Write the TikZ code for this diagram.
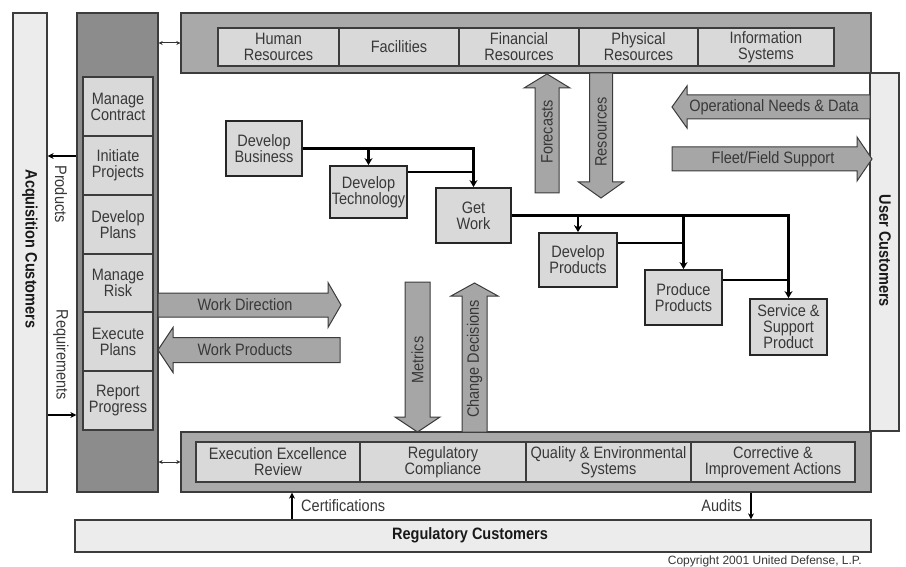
\documentclass[tikz,border=0pt]{standalone}
\usepackage{fontspec}
\setmainfont{Liberation Sans}[FakeStretch=0.88]
\newfontfamily\cpfont{Liberation Sans}
\usetikzlibrary{arrows.meta}
\definecolor{edgec}{HTML}{3C3C3C}
\definecolor{barfill}{HTML}{A9A9A9}
\definecolor{colfill}{HTML}{8C8C8C}
\definecolor{cellfill}{HTML}{D9D9D9}
\definecolor{custfill}{HTML}{ECECEC}
\definecolor{arrfill}{HTML}{A6A6A6}
\definecolor{txt}{HTML}{383838}
\newcommand\mkbox[7]{%
  \node[#1, minimum width={#5-#3}, minimum height={#6-#4}] (#2) at ({(#3+#5)/2},{(#4+#6)/2}) {#7};}
\newcommand\hblock[6]{% tail x, base x, tip x, y centre, half shaft, half head
  \draw[barrow] ({#1},{#4-#5}) -- ({#2},{#4-#5}) -- ({#2},{#4-#6}) -- ({#3},{#4}) -- ({#2},{#4+#6}) -- ({#2},{#4+#5}) -- ({#1},{#4+#5}) -- cycle;}
\newcommand\vblock[6]{% x centre, tail y, base y, tip y, half shaft, half head
  \draw[barrow] ({#1-#5},{#2}) -- ({#1-#5},{#3}) -- ({#1-#6},{#3}) -- ({#1},{#4}) -- ({#1+#6},{#3}) -- ({#1+#5},{#3}) -- ({#1+#5},{#2}) -- cycle;}
\begin{document}
\begin{tikzpicture}[x=1pt,y=-1pt,
  every node/.style={font=\fontsize{16.5}{16}\selectfont, text=txt, inner sep=0pt, align=center},
  cust/.style={draw=edgec, fill=custfill, line width=1.3pt},
  colbar/.style={draw=edgec, fill=colfill, line width=1.3pt},
  bar/.style={draw=edgec, fill=barfill, line width=1.3pt},
  cell/.style={draw=edgec, fill=cellfill, line width=1.3pt},
  proc/.style={draw=black!85, fill=cellfill, line width=1.8pt},
  barrow/.style={draw=edgec, fill=arrfill, line width=1pt},
  lab/.style={text=black!90, font=\fontsize{16.5}{16}\selectfont\bfseries},
  flowline/.style={line width=2.2pt, draw=black},
  flow/.style={flowline, -{Stealth[length=7pt,width=8pt]}},
  link/.style={line width=1.3pt, draw=black, -{Stealth[length=6pt,width=6pt]}},
  dlink/.style={line width=1pt, draw=black!80, {Stealth[length=4pt,width=4pt]}-{Stealth[length=4pt,width=4pt]}}
]
\fill[white] (0,0) rectangle (906,567);
\useasboundingbox (0,0) rectangle (906,567);

% customer bars
\mkbox{cust}{acq}{13}{13}{47}{492}{}
\node[lab, rotate=-90] (acqt) at (30,249) {Acquisition Customers};
\mkbox{cust}{user}{870}{73}{899}{431}{}
\node[lab, rotate=-90] (usert) at (885,251) {User Customers};
\mkbox{cust}{reg}{75}{520}{871}{552}{}
\node[lab] (regt) at (470,535) {Regulatory Customers};

% left column
\mkbox{colbar}{col}{77}{13}{158}{492}{}
\mkbox{cell}{mc}{83}{77}{153}{136}{Manage\\Contract}
\mkbox{cell}{ip}{83}{136}{153}{195}{Initiate\\Projects}
\mkbox{cell}{dpl}{83}{195}{153}{254}{Develop\\Plans}
\mkbox{cell}{mr}{83}{254}{153}{312}{Manage\\Risk}
\mkbox{cell}{ep}{83}{312}{153}{371}{Execute\\Plans}
\mkbox{cell}{rp}{83}{371}{153}{430}{Report\\Progress}

% top bar
\mkbox{bar}{top}{181}{13}{871}{73}{}
\mkbox{cell}{hr}{218}{28}{339}{66}{Human\\Resources}
\mkbox{cell}{fa}{339}{28}{459}{66}{Facilities}
\mkbox{cell}{fr}{459}{28}{579}{66}{Financial\\Resources}
\mkbox{cell}{phr}{579}{28}{698}{66}{Physical\\Resources}
\mkbox{cell}{is}{698}{28}{834}{66}{Information\\Systems}

% lower bar
\mkbox{bar}{low}{181}{432}{871}{492}{}
\mkbox{cell}{eer}{196}{442}{360}{482}{Execution Excellence\\Review}
\mkbox{cell}{rc}{360}{442}{526}{482}{Regulatory\\Compliance}
\mkbox{cell}{qes}{526}{442}{691}{482}{Quality \& Environmental\\Systems}
\mkbox{cell}{cia}{691}{442}{855}{482}{Corrective \&\\Improvement Actions}

% process boxes
\mkbox{proc}{db}{226}{121}{302}{176}{Develop\\Business}
\mkbox{proc}{dt}{330}{166}{407}{218}{Develop\\Technology}
\mkbox{proc}{gw}{436}{188}{511}{243}{Get\\Work}
\mkbox{proc}{dp}{539}{233}{617}{287}{Develop\\Products}
\mkbox{proc}{pp}{645}{270}{722}{325}{Produce\\Products}
\mkbox{proc}{sp}{750}{299}{827}{355}{\fontsize{16.5}{15}\selectfont Service \&\\Support\\Product}

% process flows
\draw[flow] (db.east) -| (gw.north);
\draw[flow] (db.east -| dt.north) -- (dt.north);
\coordinate (dtj) at ([yshift=-7pt]dt.north east);
\draw[flowline] (dtj) -- (dtj -| gw.north);
\draw[flow] (gw.east) -| (sp.north);
\draw[flow] (gw.east -| dp.north) -- (dp.north);
\draw[flow] (gw.east -| pp.north) -- (pp.north);
\coordinate (dpj) at ([yshift=-11pt]dp.north east);
\draw[flowline] (dpj) -- (dpj -| pp.north);
\coordinate (ppj) at ([yshift=-11pt]pp.north east);
\draw[flowline] (ppj) -- (ppj -| sp.north);

% block arrows
\vblock{547}{193}{88}{74}{12}{23}
\node[rotate=90] (fc) at (547,132) {Forecasts};
\vblock{601}{73}{182}{198}{11.5}{22.5}
\node[rotate=90] (rs) at (601,132) {Resources};
\vblock{417.5}{282}{417}{432}{12.5}{22.5}
\node[rotate=90] (mt) at (417.5,360) {Metrics};
\vblock{474.5}{432}{296}{283}{12.5}{23.5}
\node[rotate=90] (cd) at (474.5,359) {Change Decisions};
\hblock{158}{328}{341}{305}{12}{22.5}
\node (wd) at (245,305) {Work Direction};
\hblock{340}{173}{158}{350}{12.5}{22.5}
\node (wp) at (245,350) {Work Products};
\hblock{870}{687}{672}{107}{12}{21}
\node (ond) at (774,107) {Operational Needs \& Data};
\hblock{672}{857}{872}{159}{12}{22}
\node (ffs) at (773,159) {Fleet/Field Support};

% small connectors
\coordinate (pry) at (0,156);
\draw[link] (col.west |- pry) -- (acq.east |- pry);
\node[rotate=-90] (prt) at (61,194) {Products};
\coordinate (rqy) at (0,415);
\draw[link] (acq.east |- rqy) -- (col.west |- rqy);
\node[rotate=-90] (rqt) at (61,355) {Requirements};
\coordinate (d1) at (0,43);
\draw[dlink] (col.east |- d1) -- (top.west |- d1);
\coordinate (d2) at (0,462);
\draw[dlink] (col.east |- d2) -- (low.west |- d2);
\coordinate (cx) at (292,0);
\draw[link] (reg.north -| cx) -- (low.south -| cx);
\node[anchor=west] (cert) at (301,506) {Certifications};
\coordinate (ax) at (751,0);
\draw[link] (low.south -| ax) -- (reg.north -| ax);
\node[anchor=east] (aud) at (742,506) {Audits};

\node[anchor=east, font=\cpfont\fontsize{12}{12}\selectfont] (copy) at (862,561) {Copyright 2001 United Defense, L.P.};
\end{tikzpicture}
\end{document}
